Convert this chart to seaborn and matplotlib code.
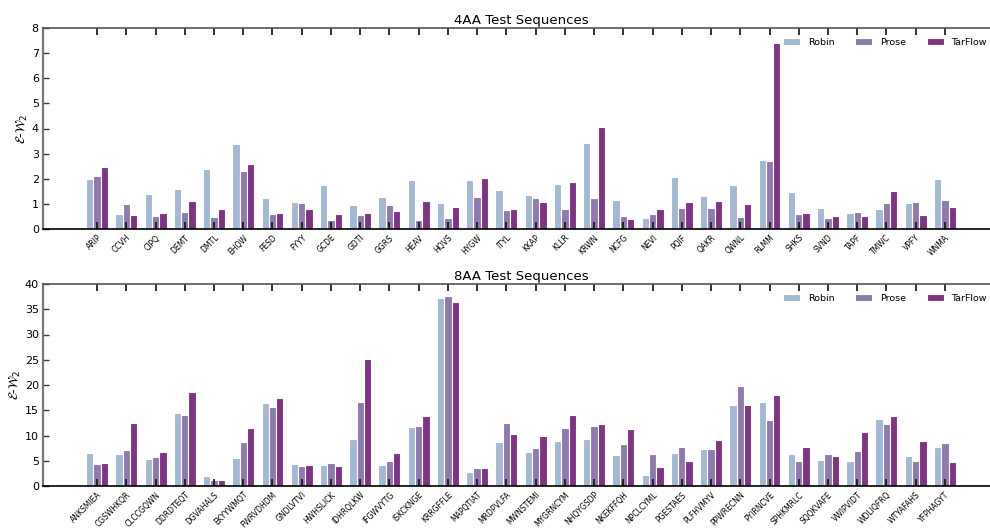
import numpy as np
import pandas as pd
import matplotlib
matplotlib.use("Agg")
import matplotlib.pyplot as plt
import seaborn as sns

methods = ["Robin", "Prose", "TarFlow"]
palette = {"Robin": "#9cb7d9", "Prose": "#8d72b5", "TarFlow": "#88288f"}

seq_4aa = ["ARIP", "CCVH", "CIPQ", "DEMT", "DMTL", "EHQW", "FESD", "FYYY", "GCDE", "GDTI",
           "GGRS", "HEAV", "HQVS", "HYGW", "ITYL", "KKAP", "KLLR", "KRWN", "NCFG", "NEVI",
           "PQIF", "QAKR", "QWNL", "RLMM", "SHKS", "SVND", "TAPF", "TMWC", "VPFY", "WNMA"]
robin_4aa = [1.98, 0.61, 1.41, 1.58, 2.39, 3.37, 1.22, 1.07, 1.74, 0.96,
             1.27, 1.96, 1.03, 1.96, 1.55, 1.35, 1.78, 3.41, 1.15, 0.45,
             2.07, 1.31, 1.75, 2.76, 1.46, 0.84, 0.65, 0.80, 1.03, 1.99]
prose_4aa = [2.11, 1.01, 0.53, 0.68, 0.48, 2.30, 0.60, 1.03, 0.36, 0.57,
             0.96, 0.36, 0.42, 1.26, 0.76, 1.25, 0.80, 1.25, 0.50, 0.60,
             0.84, 0.84, 0.49, 2.72, 0.60, 0.45, 0.69, 1.03, 1.09, 1.14]
tarflow_4aa = [2.45, 0.56, 0.64, 1.11, 0.80, 2.60, 0.64, 0.80, 0.61, 0.65,
               0.72, 1.13, 0.88, 2.02, 0.80, 1.09, 1.88, 4.06, 0.38, 0.80,
               1.09, 1.11, 1.01, 7.42, 0.65, 0.52, 0.53, 1.51, 0.57, 0.89]

seq_8aa = ["ANKSMIEA", "CGSWHKQR", "CLCCGQWN", "DDRDTEQT", "DGVAHALS", "EKYYWMQT",
           "FWRVDHDM", "GNDLVTVI", "HWHSLICK", "IDHRQLKW", "IFGWVYTG", "ISKCKNGE",
           "KRRGFFLE", "MAPQTIAT", "MRDPVLFA", "MWNSTEMI", "MYGRNCYM", "NHQYGSDP",
           "NKEKFFQH", "NPCLCYML", "PGESTAES", "PLFHVMYV", "PPWRECNN", "PYIRNCVE",
           "SPHKMRLC", "SQQKVAFE", "VWIPVIDT", "WDLIQFRQ", "WTYAFAHS", "YFPHAGYT"]
robin_8aa = [6.61, 6.35, 5.36, 14.41, 2.05, 5.62, 16.46, 4.43, 4.17, 9.26,
             4.17, 11.77, 37.16, 2.84, 8.66, 6.81, 8.93, 9.26, 6.15, 2.25,
             6.55, 7.27, 16.07, 16.60, 6.41, 5.09, 4.89, 13.22, 5.95, 7.74]
prose_8aa = [4.30, 7.07, 5.69, 14.08, 1.12, 8.66, 15.67, 3.97, 4.56, 16.60,
             4.96, 11.90, 37.62, 3.50, 12.56, 7.54, 11.50, 11.90, 8.33, 6.35,
             7.67, 7.27, 19.83, 13.09, 4.89, 6.41, 6.88, 12.23, 5.02, 8.46]
tarflow_8aa = [4.56, 12.56, 6.74, 18.64, 1.12, 11.44, 17.45, 4.17, 3.90, 25.06,
               6.48, 13.95, 36.43, 3.57, 10.38, 9.92, 14.08, 12.30, 11.37, 3.70,
               5.02, 9.12, 16.13, 18.05, 7.80, 6.02, 10.71, 13.88, 8.86, 4.76]


def long_frame(seqs, robin, prose, tarflow):
    wide = pd.DataFrame({"seq": seqs, "Robin": robin, "Prose": prose, "TarFlow": tarflow})
    return wide.melt(id_vars="seq", var_name="method", value_name="value")


fig = plt.figure(figsize=(9.9, 5.29), dpi=100)
left, width = 43 / 990, 956 / 990
ax_top = fig.add_axes([left, 1 - 229 / 529, width, 201 / 529])
ax_bot = fig.add_axes([left, 1 - 486 / 529, width, 202 / 529])

panels = [
    (ax_top, long_frame(seq_4aa, robin_4aa, prose_4aa, tarflow_4aa), seq_4aa,
     "4AA Test Sequences", 8, 1),
    (ax_bot, long_frame(seq_8aa, robin_8aa, prose_8aa, tarflow_8aa), seq_8aa,
     "8AA Test Sequences", 40, 5),
]

for ax, df, order, title, ymax, ystep in panels:
    sns.barplot(data=df, x="seq", y="value", hue="method", order=order,
                hue_order=methods, palette=palette, width=0.75,
                edgecolor="white", linewidth=0.8, ax=ax)
    n = len(order)
    ax.set_xlim(-1.85, n - 1 + 1.85)
    ax.set_ylim(0, ymax)
    ax.set_yticks(np.arange(0, ymax + ystep / 2, ystep))
    ax.set_xticks(range(n))
    ax.set_xticklabels(order, rotation=45, ha="right", rotation_mode="anchor",
                       fontsize=5.5)
    ax.tick_params(axis="x", direction="in", top=True, length=5, width=1.2,
                   color="#111111", pad=3)
    ax.tick_params(axis="y", direction="in", length=4, width=1,
                   color="#333333", labelsize=8, pad=3)
    ax.set_xlabel("")
    ax.set_ylabel(r"$\mathcal{E}$-$\mathcal{W}_2$", fontsize=9, labelpad=1)
    ax.set_title(title, fontsize=9.5, pad=3)
    ax.spines["right"].set_visible(False)
    ax.spines["left"].set_color("#777777")
    ax.spines["left"].set_linewidth(1.6)
    ax.spines["top"].set_color("#555555")
    ax.spines["top"].set_linewidth(1.2)
    ax.spines["bottom"].set_color("black")
    ax.spines["bottom"].set_linewidth(1.2)
    ax.legend(loc="upper right", ncol=3, frameon=False, fontsize=6.8,
              handlelength=1.8, handleheight=0.7, columnspacing=2.2,
              borderaxespad=0.3, bbox_to_anchor=(0.994, 0.985))

fig.savefig("out.png", dpi=100)
